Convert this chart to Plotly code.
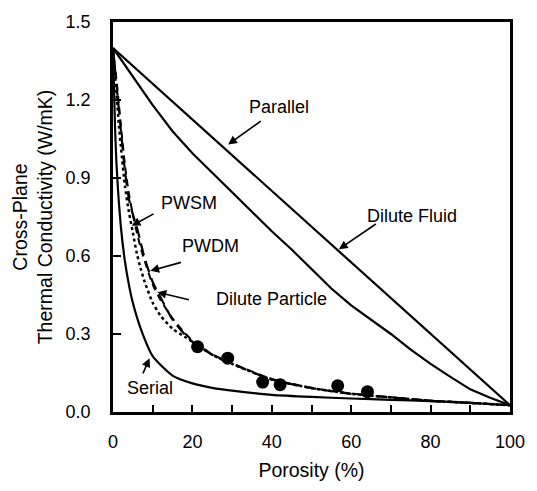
import plotly.graph_objects as go

# ---- data ----
parallel_x = [0, 100]
parallel_y = [1.40, 0.026]

dilute_fluid_x = [0, 5, 10, 15, 20, 25, 30, 35, 40, 45, 50, 55, 60, 65, 70, 75, 80, 85, 90, 95, 100]
dilute_fluid_y = [1.40, 1.29, 1.18, 1.08, 0.995, 0.92, 0.845, 0.77, 0.695, 0.625, 0.55, 0.475,
                  0.41, 0.355, 0.30, 0.24, 0.185, 0.135, 0.087, 0.055, 0.026]

serial_x = [0, 0.5, 1, 2, 3, 4, 5, 7, 10, 15, 20, 25, 30, 40, 50, 60, 70, 80, 90, 100]
serial_y = [1.40, 1.10, 0.92, 0.71, 0.58, 0.49, 0.42, 0.32, 0.215, 0.14, 0.11, 0.093,
            0.082, 0.066, 0.058, 0.052, 0.047, 0.042, 0.035, 0.026]

pwsm_x = [0, 0.5, 1, 1.5, 2, 3, 4, 5, 6, 7, 8, 10, 12, 15, 18, 20, 25, 30, 40, 50, 60, 70, 80, 90, 100]
pwsm_y = [1.40, 1.30, 1.20, 1.10, 1.02, 0.87, 0.77, 0.69, 0.61, 0.55, 0.50, 0.42, 0.37, 0.32,
          0.29, 0.27, 0.22, 0.185, 0.125, 0.092, 0.070, 0.056, 0.043, 0.035, 0.026]

pwdm_x = [0, 0.5, 1, 1.5, 2, 3, 4, 5, 6, 7, 8, 10, 12, 15, 18, 20, 25, 30, 40, 50, 60, 70, 80, 90, 100]
pwdm_y = [1.40, 1.32, 1.24, 1.16, 1.08, 0.93, 0.82, 0.76, 0.71, 0.65, 0.59, 0.50, 0.44, 0.355,
          0.30, 0.27, 0.22, 0.185, 0.125, 0.092, 0.070, 0.056, 0.043, 0.035, 0.026]

dparticle_x = [0, 0.5, 1, 1.5, 2, 3, 4, 5, 6, 7, 8, 10, 12, 15, 18, 20, 25, 30, 40, 50, 60, 70, 80, 90, 100]
dparticle_y = [1.40, 1.33, 1.26, 1.18, 1.10, 0.95, 0.84, 0.76, 0.69, 0.63, 0.58, 0.49, 0.43, 0.36,
               0.305, 0.275, 0.222, 0.187, 0.127, 0.093, 0.071, 0.057, 0.044, 0.035, 0.026]

meas_x = [21.3, 28.9, 37.7, 42.1, 56.6, 64.1]
meas_y = [0.251, 0.207, 0.115, 0.105, 0.101, 0.078]

x_ticks = [0, 20, 40, 60, 80, 100]
y_ticks = [0.0, 0.3, 0.6, 0.9, 1.2, 1.5]

# labels: (text, text_x, text_y, tail_x, tail_y, head_x, head_y)
labels = [
    ("Parallel", 41.8, 1.172, 37.6, 1.123, 29.0, 1.029),
    ("Dilute Fluid", 75.2, 0.754, 66.6, 0.727, 56.9, 0.626),
    ("PWSM", 19.1, 0.803, 10.6, 0.765, 4.7, 0.716),
    ("PWDM", 24.5, 0.637, 17.5, 0.577, 9.4, 0.543),
    ("Dilute Particle", 39.9, 0.434, 19.5, 0.430, 11.2, 0.461),
    ("Serial", 9.2, 0.094, 7.4, 0.143, 9.2, 0.207),
]

FONT = "Liberation Sans, Arial, sans-serif"

fig = go.Figure()
lw = 2.2
fig.add_trace(go.Scatter(x=parallel_x, y=parallel_y, mode="lines",
                         line=dict(color="black", width=lw), name="Parallel"))
fig.add_trace(go.Scatter(x=dilute_fluid_x, y=dilute_fluid_y, mode="lines",
                         line=dict(color="black", width=lw), name="Dilute Fluid"))
fig.add_trace(go.Scatter(x=serial_x, y=serial_y, mode="lines",
                         line=dict(color="black", width=lw, shape="spline", smoothing=0.6), name="Serial"))
fig.add_trace(go.Scatter(x=pwsm_x, y=pwsm_y, mode="lines",
                         line=dict(color="black", width=2.5, dash="dot", shape="spline", smoothing=0.6), name="PWSM"))
fig.add_trace(go.Scatter(x=pwdm_x, y=pwdm_y, mode="lines",
                         line=dict(color="black", width=2.2, dash="12px,6px", shape="spline", smoothing=0.6), name="PWDM"))
fig.add_trace(go.Scatter(x=dparticle_x, y=dparticle_y, mode="lines",
                         line=dict(color="black", width=2.0, dash="7px,5px", shape="spline", smoothing=0.6), name="Dilute Particle"))
fig.add_trace(go.Scatter(x=meas_x, y=meas_y, mode="markers",
                         marker=dict(color="black", size=13), name="Measured"))

for text, tx, ty, ax_, ay_, hx, hy in labels:
    fig.add_annotation(x=tx, y=ty, text=text, showarrow=False,
                       font=dict(family=FONT, size=18, color="black"))
    fig.add_annotation(x=hx, y=hy, ax=ax_, ay=ay_, axref="x", ayref="y",
                       text="", showarrow=True, arrowhead=2, arrowsize=1.1,
                       arrowwidth=1.6, arrowcolor="black", standoff=0, startstandoff=0)

fig.update_layout(
    width=537, height=491,
    margin=dict(l=113, r=20, t=14, b=77),
    paper_bgcolor="white", plot_bgcolor="white",
    showlegend=False,
    font=dict(family=FONT, size=18, color="black"),
)
fig.update_xaxes(
    range=[0, 100], tickvals=x_ticks, ticktext=[str(v) for v in x_ticks],
    ticks="inside", ticklen=7, tickwidth=2, tickcolor="black",
    minor=dict(dtick=10, ticks="inside", ticklen=7, tickwidth=2, tickcolor="black"),
    showline=True, linewidth=2.5, linecolor="black", mirror=True,
    showgrid=False, zeroline=False, ticklabelstandoff=12, ticklabeloverflow="allow",
    title=dict(text="Porosity (%)", font=dict(size=19.5), standoff=13),
    tickfont=dict(size=18),
)
fig.update_yaxes(
    range=[0, 1.5], tickvals=y_ticks, ticktext=[f"{v:.1f}" for v in y_ticks],
    ticks="inside", ticklen=8, tickwidth=2, tickcolor="black",
    showline=True, linewidth=2.5, linecolor="black", mirror=True,
    showgrid=False, zeroline=False, ticklabelstandoff=16, ticklabeloverflow="allow",
    title=dict(text="Cross-Plane<br>Thermal Conductivity (W/mK)", font=dict(size=19.5), standoff=8),
    tickfont=dict(size=18),
)

fig.write_html(
    "out.html",
    config={"displayModeBar": False, "responsive": False},
    post_script=(
        "document.body.style.margin='0';document.body.style.padding='0';"
        "document.documentElement.style.overflow='hidden';"
        "document.body.style.overflow='hidden';"
    ),
)
